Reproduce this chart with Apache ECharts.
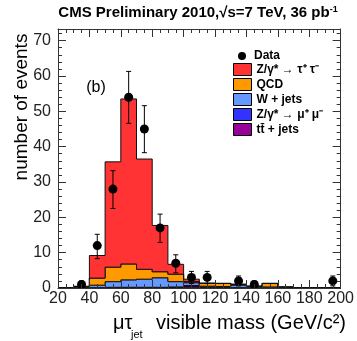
<!DOCTYPE html>
<html><head><meta charset="utf-8">
<script src="https://cdn.jsdelivr.net/npm/echarts@6/dist/echarts.min.js"></script>
<style>html,body{margin:0;padding:0;background:#fff}#c{width:357px;height:341px}</style>
</head><body><div id="c"></div>
<script>
// ---- data ----
const binEdges = [20,30,40,50,60,70,80,90,100,110,120,130,140,150,160,170,180,190];
const binWidth = 10;
const ttbar   = [0,0,0,0,0,0,0,0.1,0.4,0.1,0.1,0.1,0,0,0,0,0,0];
const zmumu   = [0,0,0.1,0.2,0.2,0.2,0.2,0.2,0.3,0.1,0.1,0,0,0,0,0,0,0];
const wjets   = [0,0.1,0.7,1.6,2.1,2.3,2.7,1.5,0.8,0.3,0.2,0.7,0.3,0.3,0.1,0,0,0];
const qcd     = [0,0.3,2.0,4.1,4.5,2.8,1.7,2.1,0.3,0.8,0.9,0.2,0.2,1.0,0.2,0,0,0];
const ztautau = [0,0.1,6.4,29.8,46.7,31.2,13.1,2.8,0.7,0.1,0,0.1,0,0,0,0,0,0];
const dataX   = [35,45,55,65,75,85,95,105,115,135,145,195];
const dataY   = [1,12,28,54,45,17,7,3,3,2,1,2];
const errLow  = [0,8.3,22.5,46.6,38.3,12.9,4.3,1.3,1.3,0.6,0,0.6];
const errHigh = [2,15.2,33.2,61.3,51.6,20.9,9.4,4.7,4.7,3.4,2,3.4];
const xTickLabels = [20,40,60,80,100,120,140,160,180,200];
const yTickLabels = [0,10,20,30,40,50,60,70];
const legendNames = ['Z/γ* → τ⁺ τ⁻','QCD','W + jets','Z/γ* → μ⁺ μ⁻','tt̄ + jets'];

const FONT = 'Liberation Sans, Arial, Helvetica, sans-serif';
const layers = [
  {name: legendNames[4], values: ttbar,   color: '#990099'},
  {name: legendNames[3], values: zmumu,   color: '#3333ff'},
  {name: legendNames[2], values: wjets,   color: '#6699ff'},
  {name: legendNames[1], values: qcd,     color: '#ff9900'},
  {name: legendNames[0], values: ztautau, color: '#ff3333'}
];
let base = binEdges.map(() => 0);
const stackSeries = layers.map(L => {
  const lower = base.slice();
  const upper = lower.map((b, i) => b + L.values[i]);
  base = upper;
  return {
    type: 'custom', name: L.name, data: [[20, 0]], silent: true, z: 2,
    itemStyle: {color: L.color, borderColor: '#000', borderWidth: 1},
    renderItem: (params, api) => {
      const pts = [];
      for (let i = 0; i < binEdges.length; i++) {
        pts.push(api.coord([binEdges[i], upper[i]]));
        pts.push(api.coord([binEdges[i] + binWidth, upper[i]]));
      }
      for (let i = binEdges.length - 1; i >= 0; i--) {
        pts.push(api.coord([binEdges[i] + binWidth, lower[i]]));
        pts.push(api.coord([binEdges[i], lower[i]]));
      }
      return {type: 'polygon', shape: {points: pts}, style: {fill: L.color, stroke: '#111', lineWidth: 1}};
    }
  };
});

const tickCommon = {inside: true, length: 8, lineStyle: {color: '#333', width: 1}};
const minorCommon = {show: true, length: 4, lineStyle: {color: '#333', width: 1}};
const lineCommon = {show: true, onZero: false, lineStyle: {color: '#333', width: 1}};

const chart = echarts.init(document.getElementById('c'), null, {renderer: 'canvas'});
chart.setOption({
  animation: false,
  backgroundColor: '#fff',
  grid: {left: 58, right: 10, top: 29, bottom: 53},
  xAxis: [
    {type: 'value', min: 20, max: 200, interval: 20, position: 'bottom', z: 10,
     axisLine: lineCommon, axisTick: tickCommon, minorTick: Object.assign({splitNumber: 4}, minorCommon),
     splitLine: {show: false},
     axisLabel: {fontSize: 16, color: '#222', fontFamily: FONT, margin: 3,
       formatter: v => xTickLabels.indexOf(v) >= 0 ? String(v) : ''}},
    {type: 'value', min: 20, max: 200, interval: 20, position: 'top', z: 10,
     axisLine: lineCommon, axisTick: tickCommon, minorTick: Object.assign({splitNumber: 4}, minorCommon),
     splitLine: {show: false}, axisLabel: {show: false}}
  ],
  yAxis: [
    {type: 'value', min: 0, max: 73.3, interval: 10, position: 'left', z: 10,
     axisLine: lineCommon, axisTick: tickCommon, minorTick: Object.assign({splitNumber: 5}, minorCommon),
     splitLine: {show: false},
     axisLabel: {fontSize: 16, color: '#222', fontFamily: FONT, margin: 7, showMaxLabel: false,
       formatter: v => yTickLabels.indexOf(v) >= 0 ? String(v) : ''}},
    {type: 'value', min: 0, max: 73.3, interval: 10, position: 'right', z: 10,
     axisLine: lineCommon, axisTick: tickCommon, minorTick: Object.assign({splitNumber: 5}, minorCommon),
     splitLine: {show: false}, axisLabel: {show: false}}
  ],
  legend: [
    {orient: 'vertical', left: 233, top: 45, itemWidth: 8, itemHeight: 8, itemGap: 2,
     data: [{name: 'Data', icon: 'circle', itemStyle: {color: '#000', opacity: 1}}],
     textStyle: {fontSize: 12, fontWeight: 'bold', color: '#000', fontFamily: FONT, padding: [0, 0, 0, 3]}},
    {orient: 'vertical', left: 228, top: 58, itemWidth: 18, itemHeight: 12, itemGap: 2,
     data: legendNames.map(n => ({name: n, icon: 'rect'})),
     itemStyle: {borderColor: '#000', borderWidth: 1},
     textStyle: {fontSize: 12, fontWeight: 'bold', color: '#000', fontFamily: FONT, lineHeight: 13}}
  ],
  series: stackSeries.concat([
    {type: 'custom', name: 'errors', z: 3, silent: true,
     data: dataX.map((x, i) => [x, errLow[i], errHigh[i]]),
     encode: {x: 0, y: [1, 2]},
     renderItem: (params, api) => {
       const x = api.value(0);
       const lo = api.coord([x, api.value(1)]);
       const hi = api.coord([x, api.value(2)]);
       const c = 2.5, st = {stroke: '#000', lineWidth: 1};
       return {type: 'group', children: [
         {type: 'line', shape: {x1: lo[0], y1: lo[1], x2: hi[0], y2: hi[1]}, style: st},
         {type: 'line', shape: {x1: lo[0] - c, y1: lo[1], x2: lo[0] + c, y2: lo[1]}, style: st},
         {type: 'line', shape: {x1: hi[0] - c, y1: hi[1], x2: hi[0] + c, y2: hi[1]}, style: st}
       ]};
     }},
    {type: 'scatter', name: 'Data', z: 4, symbol: 'circle', symbolSize: 9,
     itemStyle: {color: '#000', opacity: 1},
     data: dataX.map((x, i) => [x, dataY[i]])}
  ]),
  graphic: [
    {type: 'text', x: 198, y: 13, style: {
      text: '{a|CMS Preliminary 2010,√s=7 TeV, 36 pb}{s|-1}',
      align: 'center', verticalAlign: 'middle',
      rich: {a: {fontSize: 15, fontWeight: 'bold', fontFamily: FONT, fill: '#000'},
             s: {fontSize: 9, fontWeight: 'bold', fontFamily: FONT, fill: '#000', verticalAlign: 'top', padding: [0, 0, 7, 0]}}}},
    {type: 'text', x: 96, y: 88, style: {text: '(b)', fontSize: 16, fontFamily: FONT, fill: '#000', align: 'center', verticalAlign: 'middle'}},
    {type: 'text', x: 22, y: 107, rotation: Math.PI / 2, style: {text: 'number of events', fontSize: 19, fontFamily: FONT, fill: '#000', align: 'center', verticalAlign: 'middle'}},
    {type: 'text', x: 346, y: 323, style: {text: 'visible mass (GeV/c²)', fontSize: 20, fontFamily: FONT, fill: '#000', align: 'right', verticalAlign: 'middle'}},
    {type: 'text', x: 113, y: 323, style: {text: 'μτ', fontSize: 20, fontFamily: FONT, fill: '#000', align: 'left', verticalAlign: 'middle'}},
    {type: 'text', x: 131, y: 335, style: {text: 'jet', fontSize: 11, fontFamily: FONT, fill: '#000', align: 'left', verticalAlign: 'middle'}}
  ]
});
</script></body></html>
